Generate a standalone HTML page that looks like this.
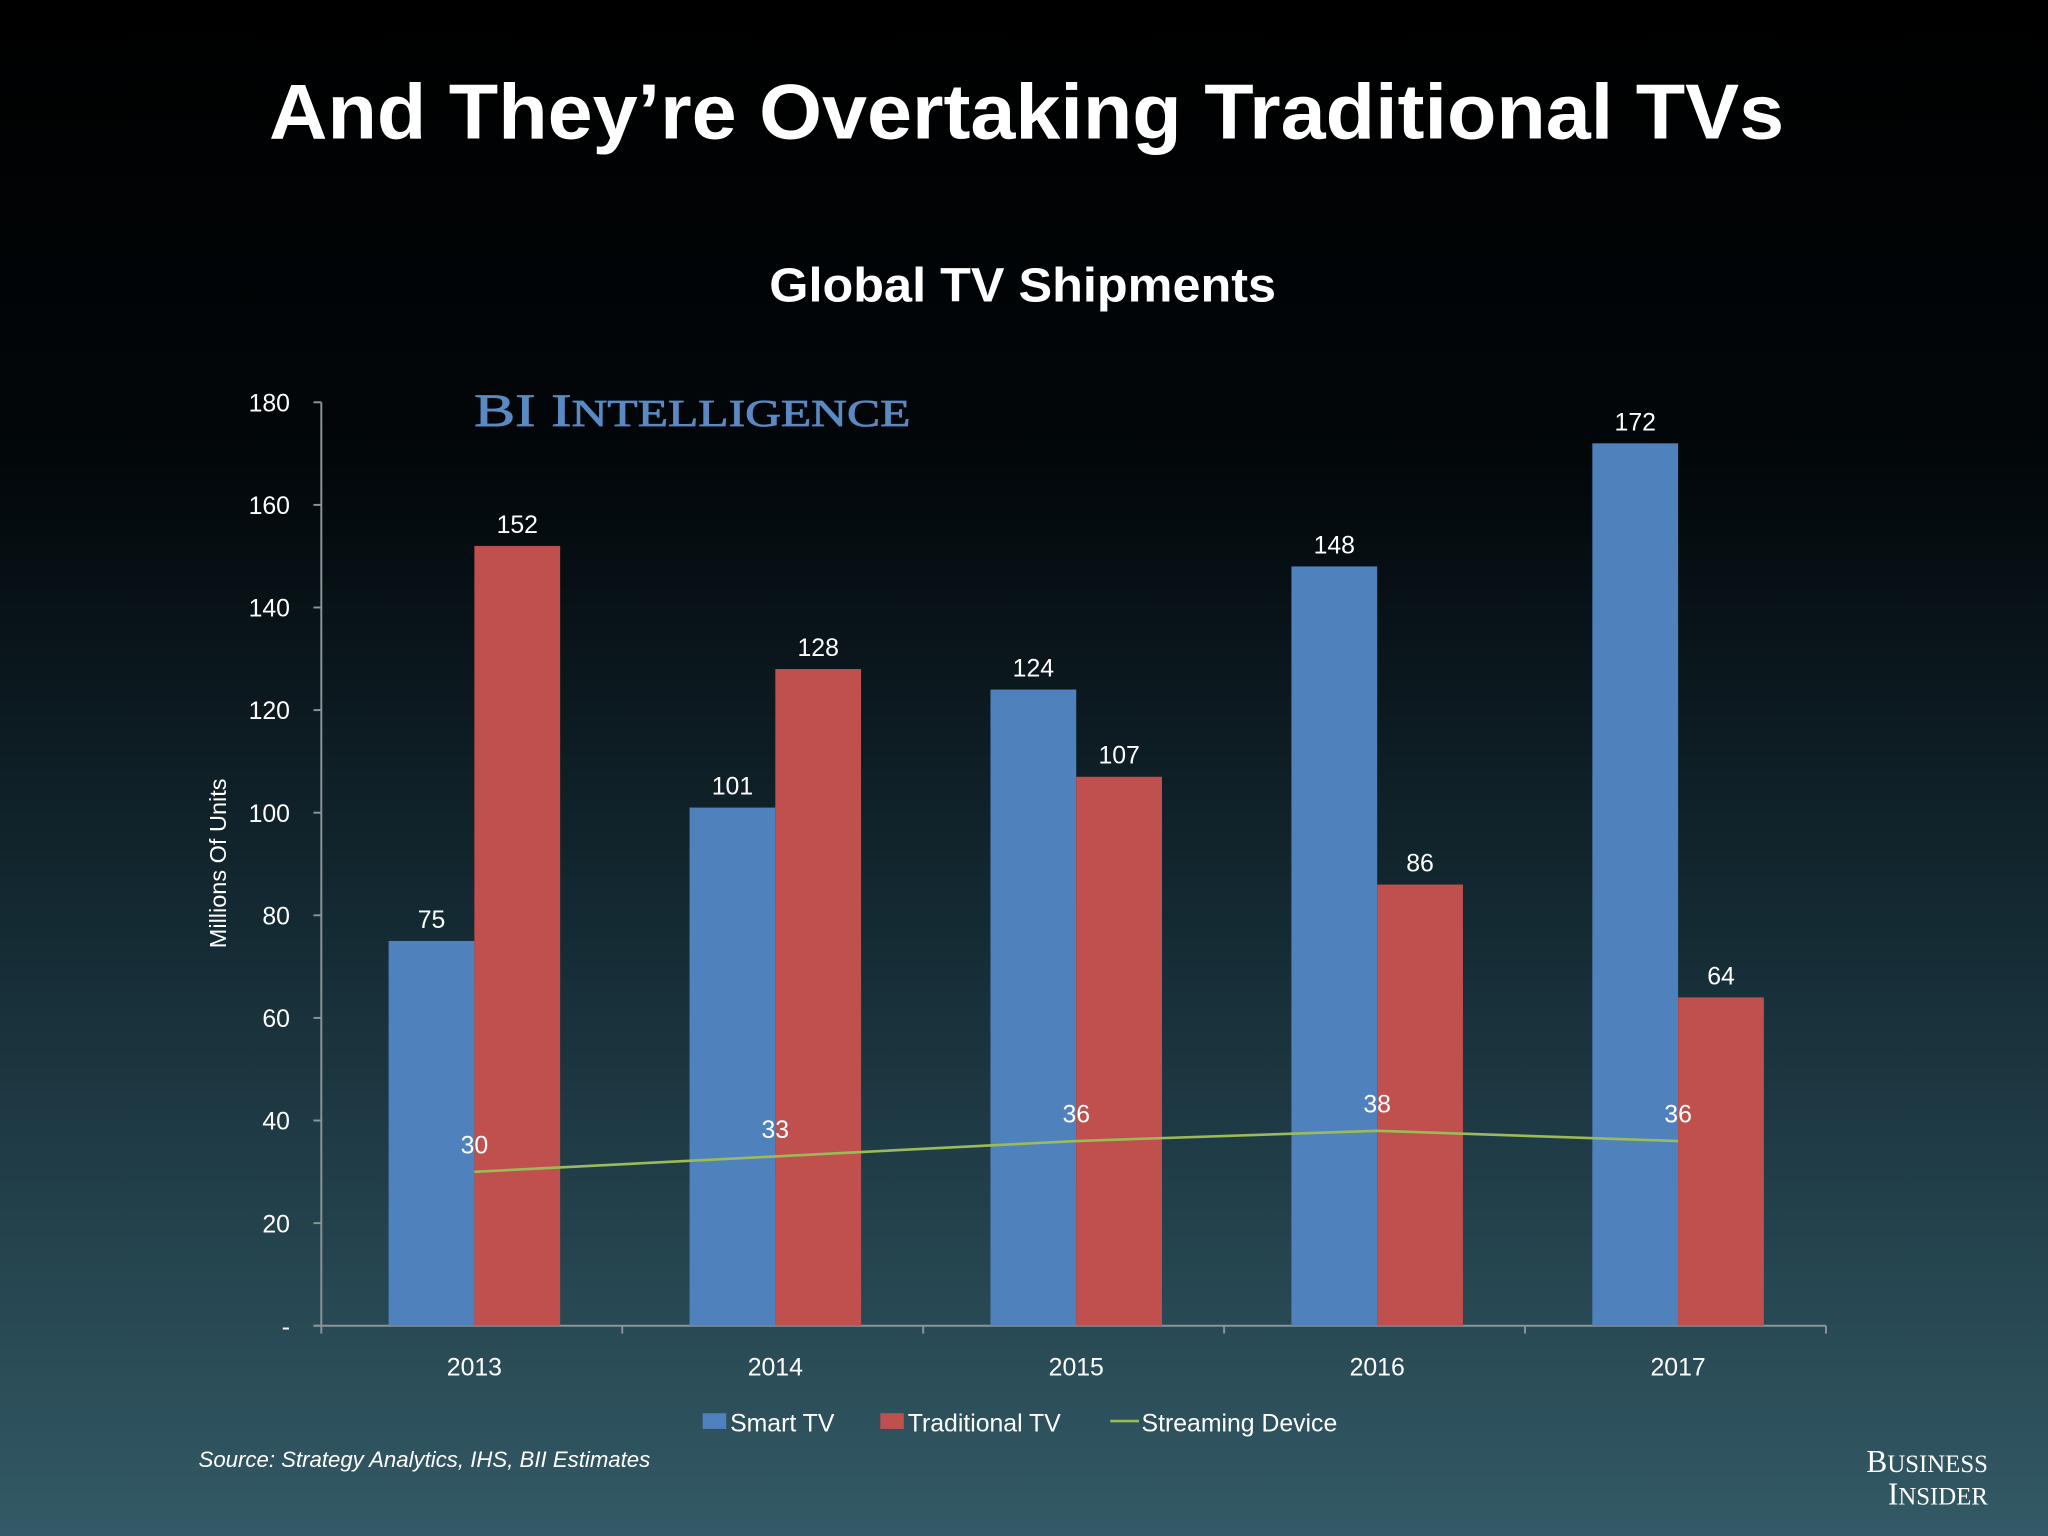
<!DOCTYPE html>
<html><head><meta charset="utf-8"><style>
html,body{margin:0;padding:0;width:2048px;height:1536px;overflow:hidden;background:#000}
svg{display:block}
text{font-family:"Liberation Sans",sans-serif;fill:#fff}
</style></head><body>
<svg width="2048" height="1536" viewBox="0 0 1568 1176" xmlns="http://www.w3.org/2000/svg">
<defs><linearGradient id="bg" x1="0" y1="0" x2="0" y2="1">
<stop offset="0" stop-color="#000"/><stop offset="0.3" stop-color="#02070a"/><stop offset="0.6" stop-color="#142a33"/><stop offset="1" stop-color="#335a66"/></linearGradient></defs>
<rect width="1568" height="1176" fill="url(#bg)"/>
<text x="786" y="106" text-anchor="middle" font-size="60" font-weight="bold" textLength="1160" lengthAdjust="spacingAndGlyphs">And They’re Overtaking Traditional TVs</text>
<text x="783" y="231" text-anchor="middle" font-size="37" font-weight="bold" textLength="388" lengthAdjust="spacingAndGlyphs">Global TV Shipments</text>
<text x="363" y="326" font-size="36" style="fill:#5a8ac4;font-family:'Liberation Serif',serif;stroke:#5a8ac4;stroke-width:0.6" textLength="334" lengthAdjust="spacingAndGlyphs">BI I<tspan font-size="29">NTELLIGENCE</tspan></text>
<text transform="translate(173,661) rotate(-90)" text-anchor="middle" font-size="18">Millions Of Units</text>
<g id="chart"></g>
<g>
<rect x="538" y="1082" width="18" height="12" fill="#4f81bd"/>
<text x="559" y="1096" font-size="19">Smart TV</text>
<rect x="674" y="1082" width="18" height="12" fill="#c0504d"/>
<text x="695" y="1096" font-size="19">Traditional TV</text>
<line x1="850" y1="1088" x2="872" y2="1088" stroke="#9bbb59" stroke-width="2"/>
<text x="874" y="1096" font-size="19">Streaming Device</text>
</g>
<text x="152" y="1123" font-size="17" font-style="italic">Source: Strategy Analytics, IHS, BII Estimates</text>
<text x="1522" y="1127" text-anchor="end" font-size="24" style="font-family:'Liberation Serif',serif">B<tspan font-size="19">USINESS</tspan></text>
<text x="1522" y="1152" text-anchor="end" font-size="24" style="font-family:'Liberation Serif',serif">I<tspan font-size="19">NSIDER</tspan></text>
</svg>
<script>
const categories=["2013","2014","2015","2016","2017"];
const smartTV=[75,101,124,148,172];
const traditionalTV=[152,128,107,86,64];
const streaming=[30,33,36,38,36];
const yTicks=[0,20,40,60,80,100,120,140,160,180];
const yTickLabels=["-","20","40","60","80","100","120","140","160","180"];
const NS="http://www.w3.org/2000/svg";
const g=document.getElementById('chart');
const x0=246,x1=1398,yb=1015,yt=308,ymax=180;
const bw=(x1-x0)/categories.length;
function y(v){return yb-(v/ymax)*(yb-yt);}
function cx(i){return x0+2+bw*(i+0.5);}
function mk(tag,attrs){const e=document.createElementNS(NS,tag);for(const k in attrs)e.setAttribute(k,attrs[k]);g.appendChild(e);return e;}
let e=mk('line',{x1:x0,y1:yt,x2:x0,y2:yb,stroke:'#8a9598','stroke-width':1.5});


e=mk('line',{x1:x0-6,y1:yb,x2:x1,y2:yb,stroke:'#8a9598','stroke-width':1.5});


yTicks.forEach((t,i)=>{
 let l=mk('line',{x1:x0-6,y1:y(t),x2:x0,y2:y(t),stroke:'#8a9598','stroke-width':1.5});
 
 
 let tx=mk('text',{x:222,y:y(t)+7,'text-anchor':'end','font-size':19});
 tx.textContent=yTickLabels[i];
 
 
});
for(let i=0;i<=categories.length;i++){
 let l=mk('line',{x1:x0+bw*i,y1:yb,x2:x0+bw*i,y2:yb+6,stroke:'#8a9598','stroke-width':1.5});
 
 
}
const barW=bw*0.285;
categories.forEach((c,i)=>{
 const m=cx(i);
 let r=mk('rect',{x:m-barW,y:y(smartTV[i]),width:barW,height:yb-y(smartTV[i]),fill:'#4f81bd'});
 
 
 let t=mk('text',{x:m-barW/2,y:y(smartTV[i])-10,'text-anchor':'middle','font-size':19});
 t.textContent=smartTV[i];
 
 
 r=mk('rect',{x:m,y:y(traditionalTV[i]),width:barW,height:yb-y(traditionalTV[i]),fill:'#c0504d'});
 
 
 t=mk('text',{x:m+barW/2,y:y(traditionalTV[i])-10,'text-anchor':'middle','font-size':19});
 t.textContent=traditionalTV[i];
 
 
 t=mk('text',{x:m,y:1053,'text-anchor':'middle','font-size':19});
 t.textContent=c;
 
 
});
const pts=streaming.map((v,i)=>cx(i)+','+y(v)).join(' ');
e=mk('polyline',{points:pts,fill:'none',stroke:'#9bbb59','stroke-width':2});


streaming.forEach((v,i)=>{
 let t=mk('text',{x:cx(i),y:y(v)-14,'text-anchor':'middle','font-size':19});
 t.textContent=v;
 
 
});
</script>
</body></html>
